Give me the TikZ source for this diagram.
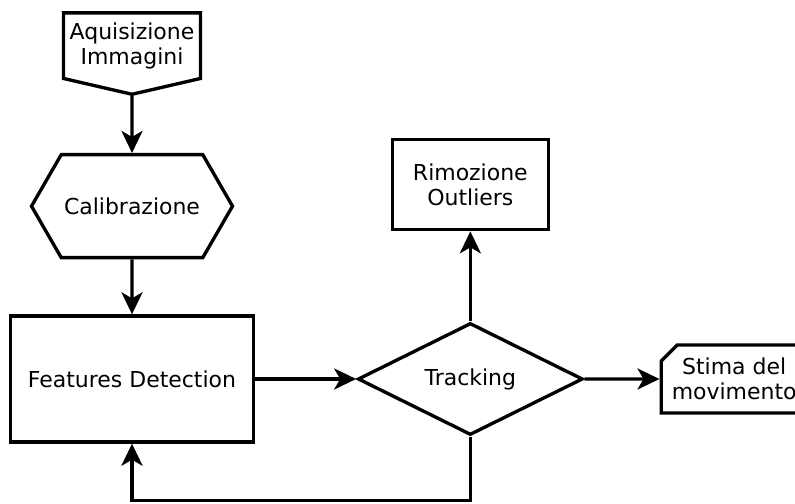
\documentclass[tikz,border=0pt]{standalone}
\usepackage{fontspec}
\setmainfont{DejaVu Sans}
\usepackage{tikz}
\usetikzlibrary{arrows.meta,positioning,shapes.geometric,shapes.symbols,shapes.misc}

\begin{document}
\begin{tikzpicture}[
  node distance=1.2cm and 2cm,
  every node/.style={font=\fontsize{12.5}{14}\selectfont, align=center, line width=1.9pt},
  proc/.style={draw, rectangle, inner sep=0pt},
  input/.style={draw, signal, signal to=south, signal pointer angle=154, minimum width=2.74cm, minimum height=1.6cm, inner sep=0pt},
  prep/.style={draw, signal, signal to=west and east, signal pointer angle=120, minimum width=4.02cm, minimum height=2.06cm, inner sep=0pt},
  decision/.style={draw, diamond, aspect=2, minimum width=4.5cm, minimum height=2.24cm, inner sep=0pt},
  outbox/.style={draw, chamfered rectangle, chamfered rectangle corners=north west, chamfered rectangle xsep=0.18cm, chamfered rectangle ysep=0.14cm, minimum width=2.92cm, minimum height=1.36cm, inner sep=0pt},
  arr/.style={-{Stealth[length=0.44cm, width=0.42cm, inset=0.12cm]}, line width=1.9pt}
]
  \useasboundingbox (0,0) rectangle (15.9,-10.08);

  % Main chain
  \node[proc, minimum width=4.86cm, minimum height=2.52cm] (feat) at (2.64,-7.58) {Features Detection};
  \node[prep, above=1.1cm of feat] (calib) {Calibrazione};
  \node[input, above=1.14cm of calib] (acq) {Aquisizione\\Immagini};
  \draw[arr] (acq) -- (calib);
  \draw[arr] (calib) -- (feat);

  % Tracking and its outputs
  \node[decision, right=2.02cm of feat] (track) {Tracking};
  \node[proc, minimum width=3.12cm, minimum height=1.8cm, above=1.8cm of track] (outl) {Rimozione\\Outliers};
  \node[outbox, right=1.5cm of track] (stima) {Stima del\\movimento};
  \draw[arr] (feat) -- (track);
  \draw[arr] (track) -- (outl);
  \draw[arr] (track) -- (stima);

  % Feedback loop
  \draw[arr] (track.south) -- ++(0,-1.28) -| (feat.south);
\end{tikzpicture}
\end{document}
